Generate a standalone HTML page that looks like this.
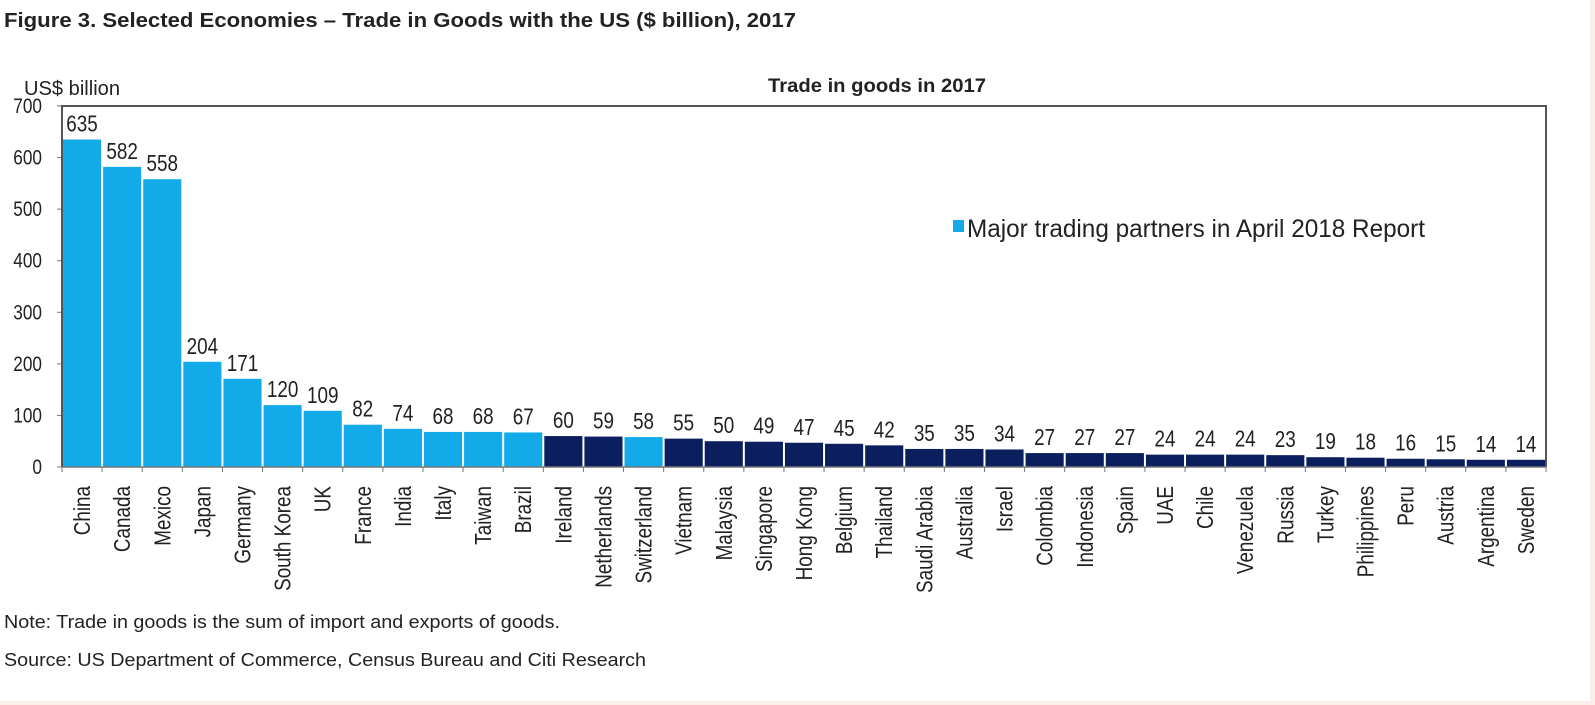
<!DOCTYPE html>
<html><head><meta charset="utf-8"><style>
html,body{margin:0;padding:0;background:#fbeee6;}
#wrap{position:absolute;left:0;top:0;width:1590px;height:701px;background:#fff;}
svg{position:absolute;left:0;top:0;}
text{font-family:"Liberation Sans Narrow","Liberation Sans",sans-serif;fill:#222;}
</style></head><body>
<div id="wrap"></div>
<svg id="chart" width="1595" height="705">
<text x="4" y="27" font-size="20" font-weight="bold" textLength="792" lengthAdjust="spacingAndGlyphs">Figure 3. Selected Economies – Trade in Goods with the US ($ billion), 2017</text>
<text x="877" y="92" font-size="19" font-weight="bold" text-anchor="middle" textLength="218" lengthAdjust="spacingAndGlyphs">Trade in goods in 2017</text>
<text x="24" y="95" font-size="20" textLength="96" lengthAdjust="spacingAndGlyphs">US$ billion</text>
<rect x="953" y="220" width="11" height="12" fill="#12aae8"></rect>
<text x="967" y="237" font-size="25" textLength="458" lengthAdjust="spacingAndGlyphs">Major trading partners in April 2018 Report</text>
<text x="4" y="628" font-size="18" textLength="556" lengthAdjust="spacingAndGlyphs">Note: Trade in goods is the sum of import and exports of goods.</text>
<text x="4" y="666" font-size="18" textLength="642" lengthAdjust="spacingAndGlyphs">Source: US Department of Commerce, Census Bureau and Citi Research</text>
<g id="plot"></g>
</svg>
<script>
const categories=["China","Canada","Mexico","Japan","Germany","South Korea","UK","France","India","Italy","Taiwan","Brazil","Ireland","Netherlands","Switzerland","Vietnam","Malaysia","Singapore","Hong Kong","Belgium","Thailand","Saudi Arabia","Australia","Israel","Colombia","Indonesia","Spain","UAE","Chile","Venezuela","Russia","Turkey","Philippines","Peru","Austria","Argentina","Sweden"];
const values=[635,582,558,204,171,120,109,82,74,68,68,67,60,59,58,55,50,49,47,45,42,35,35,34,27,27,27,24,24,24,23,19,18,16,15,14,14];
const majorPartner=[1,1,1,1,1,1,1,1,1,1,1,1,0,0,1,0,0,0,0,0,0,0,0,0,0,0,0,0,0,0,0,0,0,0,0,0,0];
const yTicks=[0,100,200,300,400,500,600,700];
const NS="http://www.w3.org/2000/svg";
const L=62,R=1546,T=106,B=467,YMAX=700;
const bw=(R-L)/categories.length;
const x=i=>L+i*bw;
const y=v=>B-(v/YMAX)*(B-T);
const g=document.getElementById('plot');
function mk(tag,attrs){const e=document.createElementNS(NS,tag);for(const k in attrs)e.setAttribute(k,attrs[k]);g.appendChild(e);return e;}
function narrow(t){const w=t.getComputedTextLength();t.setAttribute('textLength',(w*0.82).toFixed(1));t.setAttribute('lengthAdjust','spacingAndGlyphs');}
values.forEach((v,i)=>{
  const r=mk('rect',{x:x(i)+1,y:y(v),width:bw-2,height:B-y(v),fill:majorPartner[i]?'#12aae8':'#0b1f5e'});
  
  
  const t=mk('text',{x:x(i)+bw/2,y:y(v)-8,'font-size':23,'text-anchor':'middle'});
  t.textContent=v;
  
  
  narrow(t);
  const c=mk('text',{transform:`translate(${x(i)+bw/2+8},486) rotate(-90)`,'font-size':23,'text-anchor':'end'});
  c.textContent=categories[i];
  
  
  narrow(c);
});
for(let i=0;i<=categories.length;i++){
  const tk=mk('line',{x1:x(i),x2:x(i),y1:B,y2:B+5,stroke:'#777','stroke-width':1});
  
  
}
yTicks.forEach(v=>{
  const tk=mk('line',{x1:L-5,x2:L,y1:y(v),y2:y(v),stroke:'#777','stroke-width':1});
  
  
  const t=mk('text',{x:42,y:y(v)+7,'font-size':21,'text-anchor':'end'});
  t.textContent=v;
  
  
  narrow(t);
});
const fr=mk('path',{d:`M${L},${B} L${L},${T} L${R},${T} L${R},${B}`,fill:'none',stroke:'#555','stroke-width':2});


const ax=mk('line',{x1:L,x2:R,y1:B,y2:B,stroke:'#777','stroke-width':1.5});


</script>
</body></html>
